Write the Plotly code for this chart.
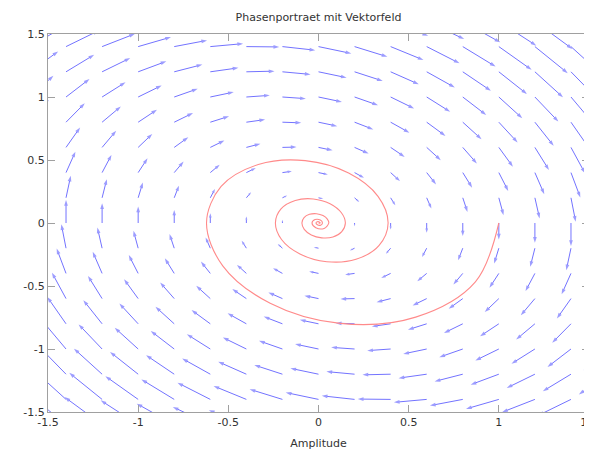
import math
import plotly.graph_objects as go

# ---------------- data ----------------
title_text = "Phasenportraet mit Vektorfeld"
x_label = "Amplitude"

tick_vals = [-1.5, -1.0, -0.5, 0.0, 0.5, 1.0, 1.5]
x_tick_text = ["-1.5", "-1", "-0.5", "0", "0.5", "1", "1.5"]
y_tick_text = ["-1.5", "-1", "-0.5", "0", "0.5", "1", "1.5"]

# arrow tail grid
grid_x = [-1.6, -1.4, -1.2, -1.0, -0.8, -0.6, -0.4, -0.2, 0.0,
          0.2, 0.4, 0.6, 0.8, 1.0, 1.2, 1.4, 1.6]
grid_y = [1.6, 1.4, 1.2, 1.0, 0.8, 0.6, 0.4, 0.2, 0.0,
          -0.2, -0.4, -0.6, -0.8, -1.0, -1.2, -1.4, -1.6]

# horizontal field component, one value per row (same across a row)
field_u_by_row = [1.6, 1.4, 1.2, 1.0, 0.8, 0.6, 0.4, 0.2, 0.0,
                  -0.2, -0.4, -0.6, -0.8, -1.0, -1.2, -1.4, -1.6]

# vertical field component, rows follow grid_y, columns follow grid_x
field_v = [
    [1.12, 0.92, 0.72, 0.52, 0.32, 0.12, -0.08, -0.28, -0.48, -0.68, -0.88, -1.08, -1.28, -1.48, -1.68, -1.88, -2.08],
    [1.18, 0.98, 0.78, 0.58, 0.38, 0.18, -0.02, -0.22, -0.42, -0.62, -0.82, -1.02, -1.22, -1.42, -1.62, -1.82, -2.02],
    [1.24, 1.04, 0.84, 0.64, 0.44, 0.24, 0.04, -0.16, -0.36, -0.56, -0.76, -0.96, -1.16, -1.36, -1.56, -1.76, -1.96],
    [1.30, 1.10, 0.90, 0.70, 0.50, 0.30, 0.10, -0.10, -0.30, -0.50, -0.70, -0.90, -1.10, -1.30, -1.50, -1.70, -1.90],
    [1.36, 1.16, 0.96, 0.76, 0.56, 0.36, 0.16, -0.04, -0.24, -0.44, -0.64, -0.84, -1.04, -1.24, -1.44, -1.64, -1.84],
    [1.42, 1.22, 1.02, 0.82, 0.62, 0.42, 0.22, 0.02, -0.18, -0.38, -0.58, -0.78, -0.98, -1.18, -1.38, -1.58, -1.78],
    [1.48, 1.28, 1.08, 0.88, 0.68, 0.48, 0.28, 0.08, -0.12, -0.32, -0.52, -0.72, -0.92, -1.12, -1.32, -1.52, -1.72],
    [1.54, 1.34, 1.14, 0.94, 0.74, 0.54, 0.34, 0.14, -0.06, -0.26, -0.46, -0.66, -0.86, -1.06, -1.26, -1.46, -1.66],
    [1.60, 1.40, 1.20, 1.00, 0.80, 0.60, 0.40, 0.20, 0.00, -0.20, -0.40, -0.60, -0.80, -1.00, -1.20, -1.40, -1.60],
    [1.66, 1.46, 1.26, 1.06, 0.86, 0.66, 0.46, 0.26, 0.06, -0.14, -0.34, -0.54, -0.74, -0.94, -1.14, -1.34, -1.54],
    [1.72, 1.52, 1.32, 1.12, 0.92, 0.72, 0.52, 0.32, 0.12, -0.08, -0.28, -0.48, -0.68, -0.88, -1.08, -1.28, -1.48],
    [1.78, 1.58, 1.38, 1.18, 0.98, 0.78, 0.58, 0.38, 0.18, -0.02, -0.22, -0.42, -0.62, -0.82, -1.02, -1.22, -1.42],
    [1.84, 1.64, 1.44, 1.24, 1.04, 0.84, 0.64, 0.44, 0.24, 0.04, -0.16, -0.36, -0.56, -0.76, -0.96, -1.16, -1.36],
    [1.90, 1.70, 1.50, 1.30, 1.10, 0.90, 0.70, 0.50, 0.30, 0.10, -0.10, -0.30, -0.50, -0.70, -0.90, -1.10, -1.30],
    [1.96, 1.76, 1.56, 1.36, 1.16, 0.96, 0.76, 0.56, 0.36, 0.16, -0.04, -0.24, -0.44, -0.64, -0.84, -1.04, -1.24],
    [2.02, 1.82, 1.62, 1.42, 1.22, 1.02, 0.82, 0.62, 0.42, 0.22, 0.02, -0.18, -0.38, -0.58, -0.78, -0.98, -1.18],
    [2.08, 1.88, 1.68, 1.48, 1.28, 1.08, 0.88, 0.68, 0.48, 0.28, 0.08, -0.12, -0.32, -0.52, -0.72, -0.92, -1.12],
]

# trajectory (red spiral) points
spiral_x = [1.000, 0.870, 0.539, 0.120, -0.268, -0.531, -0.621, -0.540, -0.334, -0.074,
            0.167, 0.330, 0.386, 0.335, 0.208, 0.046, -0.103, -0.205, -0.239, -0.208,
            -0.129, -0.029, 0.064, 0.127, 0.149, 0.129, 0.080, 0.018, -0.040, -0.079,
            -0.092, -0.080, -0.050, -0.011, 0.025, 0.049, 0.057, 0.031, -0.015, -0.036,
            -0.019, 0.010, 0.022, 0.012, -0.006, -0.014, -0.007, 0.004, 0.009, 0.000]
spiral_y = [0.000, -0.467, -0.747, -0.797, -0.637, -0.340, 0.000, 0.290, 0.464, 0.495,
            0.396, 0.211, 0.000, -0.180, -0.288, -0.307, -0.246, -0.131, 0.000, 0.112,
            0.179, 0.191, 0.153, 0.081, 0.000, -0.069, -0.111, -0.118, -0.095, -0.051,
            0.000, 0.043, 0.069, 0.074, 0.059, 0.031, 0.000, -0.043, -0.037, 0.000,
            0.027, 0.023, 0.000, -0.017, -0.014, 0.000, 0.010, 0.009, 0.000, 0.000]

# ---------------- styling ----------------
ARROW_SCALE = 0.13
# the page body has an 8 px margin, so the figure is 8 px smaller than the window
W, H = 584, 442
MARGIN = dict(l=40, r=3, t=26, b=38)
PLOT_W = W - MARGIN["l"] - MARGIN["r"]
PLOT_H = H - MARGIN["t"] - MARGIN["b"]
PX_PER_X = PLOT_W / 3.0
PX_PER_Y = PLOT_H / 3.0
ARROW_COLOR = "#7373ff"
SPIRAL_COLOR = "#ff8a8a"
AXIS_COLOR = "#a0a0a0"
TEXT_COLOR = "#333333"
FONT = "DejaVu Sans"

vx, vy, vsize = [], [], []
for i, y0 in enumerate(grid_y):
    u = field_u_by_row[i]
    for j, x0 in enumerate(grid_x):
        v = field_v[i][j]
        dx, dy = ARROW_SCALE * u, ARROW_SCALE * v
        plen = math.hypot(dx * PX_PER_X, dy * PX_PER_Y)
        if plen < 0.5:
            continue
        vx += [x0, x0 + dx, None]
        vy += [y0, y0 + dy, None]
        vsize += [0, min(6.0, 0.35 * plen + 1.0), 0]

fig = go.Figure()
fig.add_trace(go.Scatter(
    x=vx, y=vy, mode="lines+markers",
    line=dict(color=ARROW_COLOR, width=1),
    marker=dict(symbol="arrow", angleref="previous", size=vsize,
                color=ARROW_COLOR, line=dict(width=0)),
    hoverinfo="skip", showlegend=False, cliponaxis=True,
))
fig.add_trace(go.Scatter(
    x=spiral_x, y=spiral_y, mode="lines",
    line=dict(color=SPIRAL_COLOR, width=1.1, shape="spline", smoothing=1.0),
    hoverinfo="skip", showlegend=False,
))

axis_common = dict(
    range=[-1.5, 1.5], tickvals=tick_vals, showgrid=False, zeroline=False,
    showline=True, linecolor=AXIS_COLOR, linewidth=1, mirror="allticks",
    ticks="inside", ticklen=7, tickcolor=AXIS_COLOR, tickwidth=1,
    tickfont=dict(family=FONT, size=11, color=TEXT_COLOR), automargin=False,
    ticklabeloverflow="allow",
)
fig.update_xaxes(**axis_common, ticktext=x_tick_text,
                 title=dict(text=x_label, font=dict(family=FONT, size=11, color=TEXT_COLOR),
                            standoff=11))
fig.update_yaxes(**axis_common, ticktext=y_tick_text)

fig.update_layout(
    width=W, height=H, margin=MARGIN,
    paper_bgcolor="white", plot_bgcolor="white",
    title=dict(text=title_text, x=(MARGIN["l"] + PLOT_W / 2) / W,
               xanchor="center", y=1 - 9 / H, yanchor="middle",
               font=dict(family=FONT, size=11, color=TEXT_COLOR), automargin=False),
)

fig.write_html("out.html")
